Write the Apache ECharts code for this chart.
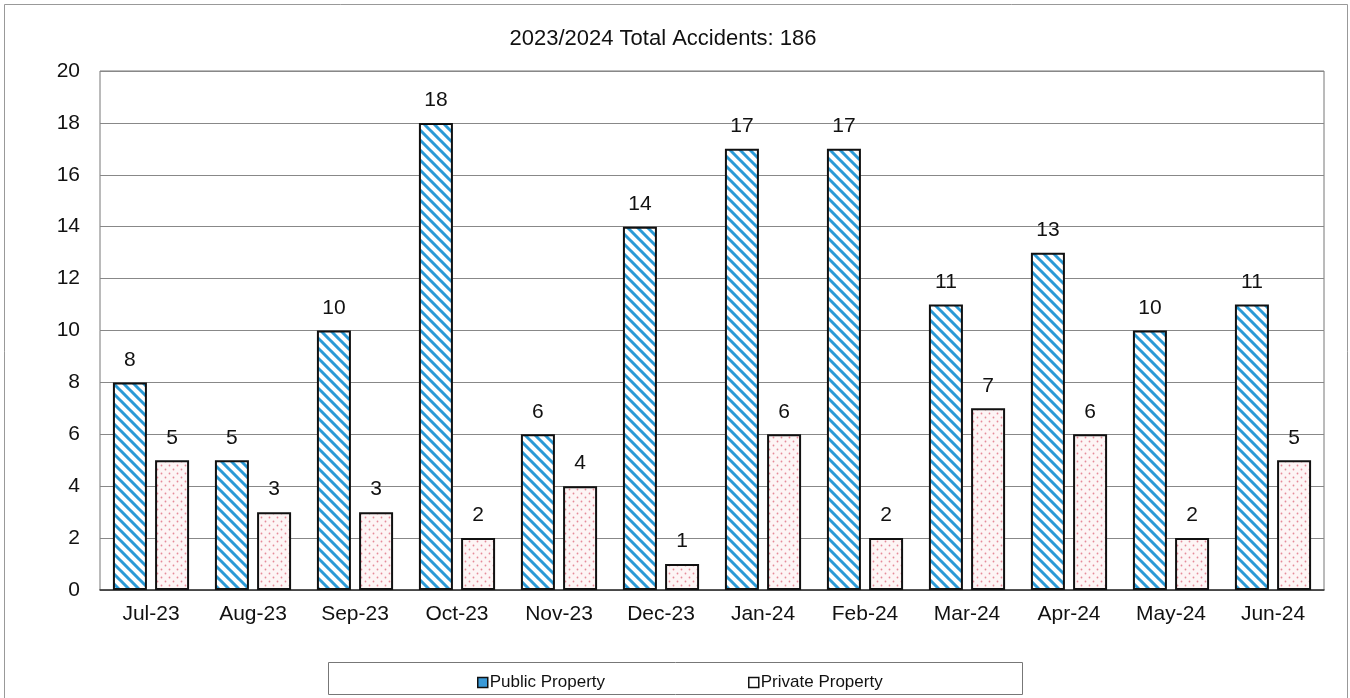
<!DOCTYPE html>
<html>
<head>
<meta charset="utf-8">
<script src="https://cdn.jsdelivr.net/npm/echarts@6/dist/echarts.min.js"></script>
<style>
html,body{margin:0;padding:0;background:#fff;}
#c{width:1350px;height:698px;}
</style>
</head>
<body>
<div id="c"></div>
<script>
var categories = ['Jul-23','Aug-23','Sep-23','Oct-23','Nov-23','Dec-23','Jan-24','Feb-24','Mar-24','Apr-24','May-24','Jun-24'];
var publicValues = [8,5,10,18,6,14,17,17,11,13,10,11];
var privateValues = [5,3,3,2,4,1,6,2,7,6,2,5];
var yTicks = [0,2,4,6,8,10,12,14,16,18,20];
var titleText = '2023/2024 Total Accidents: 186';

function stripePattern(){
  var c = document.createElement('canvas');
  var s = 10;
  c.width = s; c.height = s;
  var g = c.getContext('2d');
  g.fillStyle = '#ffffff';
  g.fillRect(0,0,s,s);
  g.strokeStyle = '#2b9ad6';
  g.lineWidth = 3;
  g.beginPath();
  for (var k = -1; k <= 1; k++){
    g.moveTo(k*s - 1, -1);
    g.lineTo(k*s + s + 1, s + 1);
  }
  g.stroke();
  return c;
}
function dotPattern(){
  var c = document.createElement('canvas');
  var s = 8;
  c.width = s; c.height = s;
  var g = c.getContext('2d');
  g.fillStyle = '#fdf5f5';
  g.fillRect(0,0,s,s);
  g.fillStyle = '#e58a98';
  var pts = [[1,1],[5,5]];
  pts.forEach(function(p){ g.beginPath(); g.arc(p[0]+0.5,p[1]+0.5,0.9,0,Math.PI*2); g.fill(); });
  return c;
}

var chart = echarts.init(document.getElementById('c'));
var font = 'Liberation Sans, Arial, sans-serif';
chart.setOption({
  animation: false,
  backgroundColor: '#fff',
  title: {
    text: titleText, left: 658, top: 23, textAlign: 'center',
    textStyle: {fontFamily: font, fontSize: 22, fontWeight: 'normal', color: '#111'}
  },
  grid: {left: 100, right: 26, top: 71, bottom: 108, show: true, borderColor: '#777', borderWidth: 1, backgroundColor: 'transparent'},
  legend: {
    left: 472, top: 669, itemGap: 143, itemWidth: 10, itemHeight: 10, icon: 'rect',
    textStyle: {fontFamily: font, fontSize: 17, color: '#111', padding: [0,0,0,-3]},
    data: [
      {name: 'Public Property', itemStyle: {color: '#3a9ad8', borderColor: '#111', borderWidth: 1.5}},
      {name: 'Private Property', itemStyle: {color: '#fff', borderColor: '#111', borderWidth: 1.5}}
    ]
  },
  graphic: [
    {type: 'rect', shape: {x: 4.5, y: 4.5, width: 1343, height: 700}, style: {fill: 'none', stroke: '#999', lineWidth: 1}, silent: true},
    {type: 'rect', shape: {x: 328.5, y: 662.5, width: 694, height: 32}, style: {fill: 'none', stroke: '#777', lineWidth: 1}, silent: true, z: -1}
  ],
  xAxis: {
    type: 'category', data: categories,
    axisLine: {lineStyle: {color: '#333', width: 1.5}},
    axisTick: {show: false},
    axisLabel: {fontFamily: font, fontSize: 21, color: '#111', margin: 14}
  },
  yAxis: {
    type: 'value', min: 0, max: 20, interval: 2,
    axisLine: {show: false}, axisTick: {show: false},
    splitLine: {lineStyle: {color: '#888', width: 1}},
    axisLabel: {fontFamily: font, fontSize: 21, color: '#111', margin: 20,
      formatter: function(v){ return yTicks.indexOf(v) >= 0 ? String(v) : ''; }}
  },
  series: [
    {
      name: 'Public Property', type: 'bar', data: publicValues,
      barWidth: 34, barGap: '24%',
      itemStyle: {color: {image: stripePattern(), repeat: 'repeat'}, borderColor: '#111', borderWidth: 2},
      label: {show: true, position: 'top', distance: 12, fontFamily: font, fontSize: 21, color: '#111'}
    },
    {
      name: 'Private Property', type: 'bar', data: privateValues,
      barWidth: 34,
      itemStyle: {color: {image: dotPattern(), repeat: 'repeat'}, borderColor: '#111', borderWidth: 2},
      label: {show: true, position: 'top', distance: 12, fontFamily: font, fontSize: 21, color: '#111'}
    }
  ]
});
</script>
</body>
</html>
